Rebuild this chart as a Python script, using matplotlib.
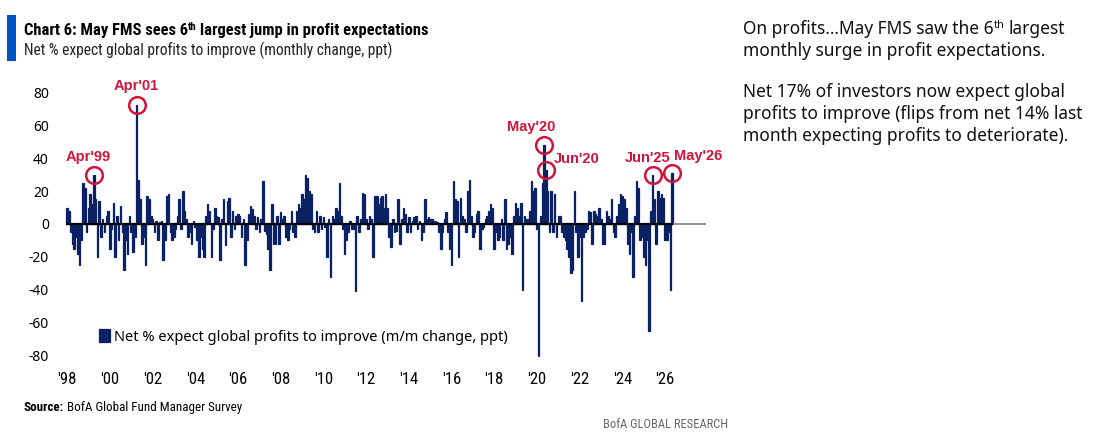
import matplotlib
matplotlib.use('Agg')
import numpy as np
import matplotlib.pyplot as plt
from matplotlib.patches import Rectangle
from matplotlib import font_manager

# monthly change in net % expecting global profits to improve (ppt), Jan'98 .. May'26
chg_98_03 = [
    10, 8, -5, -12, -15, -8, -18, -25, -10, 25, 22, -5,      # 1998
    10, 18, 12, 30, 15, -20, 14, -8, 3, -5, 5, 8,            # 1999
    -15, -3, 13, -20, 5, -10, 11, -5, -28, -10, -18, 5,      # 2000
    -5, -17, -8, 72, 27, 15, -12, -8, -25, 17, 15, 5,        # 2001
    3, -5, 2, -10, 1, 2, -22, -10, 17, 18, -5, -10,          # 2002
    -8, -3, 5, 15, -3, 20, 8, 3, -8, -5, -12, 2,             # 2003
]
chg_04_09 = [
    -2, -10, -20, -8, -15, -20, 5, 12, 8, -20, -3, 10,       # 2004
    5, 4, -22, 3, 15, -13, 14, 16, -8, 8, -3, 5,             # 2005
    6, 5, -8, 3, -25, -10, 6, 11, 9, 5, -3, 4,               # 2006
    -5, 3, 26, -4, -6, -15, -28, 12, -12, -12, 5, -12,       # 2007
    7, 3, 5, -8, -10, -3, 8, -5, -8, 8, 12, 10,              # 2008
    18, 15, 30, 28, 20, 18, -3, -5, 8, -5, 5, -3,            # 2009
]
chg_10_15 = [
    4, -2, -20, 3, -32, 5, 3, 10, 8, 25, 5, -3,              # 2010
    -18, -10, -5, 2, -3, -3, -41, 5, -5, 3, 19, 18,          # 2011
    3, -3, 5, 3, -20, 17, 17, 12, 16, 17, 10, 18,            # 2012
    10, -8, -14, 3, -5, -4, 15, -12, 3, 10, 6, -5,           # 2013
    4, -5, 2, 4, 5, -3, 2, -10, -5, 15, 3, 4,                # 2014
    3, 3, 2, 2, 1, -5, -15, -5, 3, 7, -5, -15,               # 2015
]
chg_16_21 = [
    -25, 26, 15, 14, -20, 16, 5, 3, -5, 20, 27, 5,           # 2016
    -8, -5, 6, 8, -15, -3, -2, 3, 5, 8, 12, 10,              # 2017
    -15, -5, -10, -8, 3, -10, 15, -15, -12, -8, -18, 5,      # 2018
    13, 10, 5, 13, -40, 5, 3, 3, 8, 26, 20, 22,              # 2019
    -3, -80, 5, 25, 48, 33, 20, -5, 20, -5, 18, -8,          # 2020
    5, 5, -5, -8, -10, -15, -20, -30, -28, 20, -5, -20,      # 2021
]
chg_22_26 = [
    -8, -47, -8, -5, -3, 8, 7, -12, 8, 6, 5, 10,             # 2022
    3, -12, -12, 8, 5, 3, 15, -5, -8, 5, 12, 18,             # 2023
    17, 15, 10, -12, -18, -5, -32, 5, 26, 22, -10, -8,       # 2024
    -20, -25, -10, -65, 8, 30, 15, -12, 20, 16, 18, 16,      # 2025
    -10, -10, -5, -40, 31,                                   # 2026
]
values = np.array(chg_98_03 + chg_04_09 + chg_10_15 + chg_16_21 + chg_22_26)

year_labels = ["'98", "'00", "'02", "'04", "'06", "'08", "'10", "'12",
               "'14", "'16", "'18", "'20", "'22", "'24", "'26"]
y_ticks = [80, 60, 40, 20, 0, -20, -40, -60, -80]

# highlighted months: (label, year, month, label offset in px)
highlights = [("Apr'99", 1999, 4, (-6, 18)),
              ("Apr'01", 2001, 4, (0, 19)),
              ("May'20", 2020, 5, (-13, 18)),
              ("Jun'20", 2020, 6, (31, 11)),
              ("Jun'25", 2025, 6, (-5, 17)),
              ("May'26", 2026, 5, (26, 17))]

NAVY = '#0A2264'
RED = '#D2143A'
BODY = ['Noto Sans', 'DejaVu Sans']

# look for a condensed face for the header / axis labels
fl = font_manager.fontManager.ttflist
names = {f.name for f in fl}
if 'Roboto Condensed' in names:
    NARROW, SC = dict(family=['Roboto Condensed', 'DejaVu Sans']), 1.0
elif 'Liberation Sans Narrow' in names:
    NARROW, SC = dict(family=['Liberation Sans Narrow', 'DejaVu Sans']), 1.0
elif any(f.name == 'Noto Sans' and 'condensed' in str(f.stretch) for f in fl):
    NARROW, SC = dict(family=['Noto Sans', 'DejaVu Sans'], fontstretch='condensed'), 1.0
else:
    NARROW, SC = dict(family=['Roboto', 'DejaVu Sans']), 0.82

W, H = 1097, 442
fig = plt.figure(figsize=(W / 100, H / 100), dpi=100)
fig.patch.set_facecolor('white')


def px(x, y):
    return x / W, 1 - y / H


ax = fig.add_axes([60 / W, (H - 359) / H, (706 - 60) / W, (359 - 84) / H])
idx = np.arange(len(values))
ax.bar(idx, values, width=0.85, color=NAVY, edgecolor=NAVY, linewidth=0.9,
       label='Net % expect global profits to improve (m/m change, ppt)')
ax.hlines(0, -0.6, len(values) - 0.4, color='black', lw=1.6, zorder=3)
ax.hlines(0, len(values) - 0.4, 359, color='#808080', lw=1.2, zorder=3)

ax.set_xlim(-4, 359)
ax.set_ylim(-82, 85)
for s in ax.spines.values():
    s.set_visible(False)
ax.set_xticks(np.arange(0, len(values), 24))
ax.set_xticklabels(year_labels, fontsize=12 * SC, **NARROW)
ax.set_yticks(y_ticks)
ax.set_yticklabels([str(v) for v in y_ticks], family=BODY, fontsize=10)
ax.tick_params(axis='x', length=0, pad=9)
ax.tick_params(axis='y', length=0, pad=8)

for lab, yr, mo, (dx, dy) in highlights:
    i = (yr - 1998) * 12 + mo - 1
    v = values[i]
    ax.plot(i, v, 'o', ms=12, mfc='none', mec=RED, mew=1.8, zorder=5)
    ax.annotate(lab, (i, v), xytext=(dx, dy), textcoords='offset pixels',
                ha='center', va='center', color=RED, fontsize=10.5,
                fontweight='bold', family=['Liberation Sans', 'DejaVu Sans'])

leg = ax.legend(loc='lower left', bbox_to_anchor=(92 / W, (H - 352) / H),
                bbox_transform=fig.transFigure, frameon=False, handlelength=0.75,
                handleheight=1.0, handletextpad=0.25, borderpad=0,
                prop={'family': BODY, 'size': 10.5})

# header
fig.patches.append(Rectangle(px(7, 61), 9 / W, 46 / H, transform=fig.transFigure,
                             color='#0052C2', lw=0))

renderer = fig.canvas.get_renderer()


def text_w(s, props):
    t = fig.text(0, 0, s, **props)
    w = t.get_window_extent(renderer).width
    t.remove()
    return w


def run(x, y, parts):
    # draw a line of text made of several pieces (for superscripts)
    for s, props, rise in parts:
        sp = text_w('n n', props) - text_w('nn', props)
        core = s.strip()
        x += (len(s) - len(s.lstrip())) * sp
        t = fig.text(*px(x, y - rise), core, va='baseline', **props)
        x += t.get_window_extent(renderer).width
        x += (len(s) - len(s.rstrip())) * sp


tb = dict(NARROW, fontsize=11.9 * SC, fontweight='bold', color='black')
tbs = dict(NARROW, fontsize=7.8 * SC, fontweight='bold', color='black')
run(24, 35, [("Chart 6: May FMS sees 6", tb, 0), ("th", tbs, 5),
             (" largest jump in profit expectations", tb, 0)])
fig.text(*px(24, 55), 'Net % expect global profits to improve (monthly change, ppt)',
         va='baseline', fontsize=11.2 * SC, color='#222222', **NARROW)

rb = dict(family=BODY, fontsize=12.5, color='#111111')
rbs = dict(family=BODY, fontsize=8, color='#111111')
run(743, 34, [("On profits\u2026May FMS saw the 6", rb, 0), ("th", rbs, 6),
              (" largest", rb, 0)])
fig.text(*px(743, 56), 'monthly surge in profit expectations.', va='baseline', **rb)
fig.text(*px(743, 97), 'Net 17% of investors now expect global', va='baseline', **rb)
fig.text(*px(743, 119), 'profits to improve (flips from net 14% last', va='baseline', **rb)
fig.text(*px(743, 141), 'month expecting profits to deteriorate).', va='baseline', **rb)

sb = dict(NARROW, fontsize=9.4 * SC, color='black')
run(24, 411, [("Source:", dict(sb, fontweight='bold'), 0),
              (" BofA Global Fund Manager Survey", sb, 0)])
fig.text(*px(728, 428), 'BofA GLOBAL RESEARCH', ha='right', va='baseline',
         fontsize=9 * SC, color='#666666', **NARROW)

fig.savefig('out.png', dpi=100)
